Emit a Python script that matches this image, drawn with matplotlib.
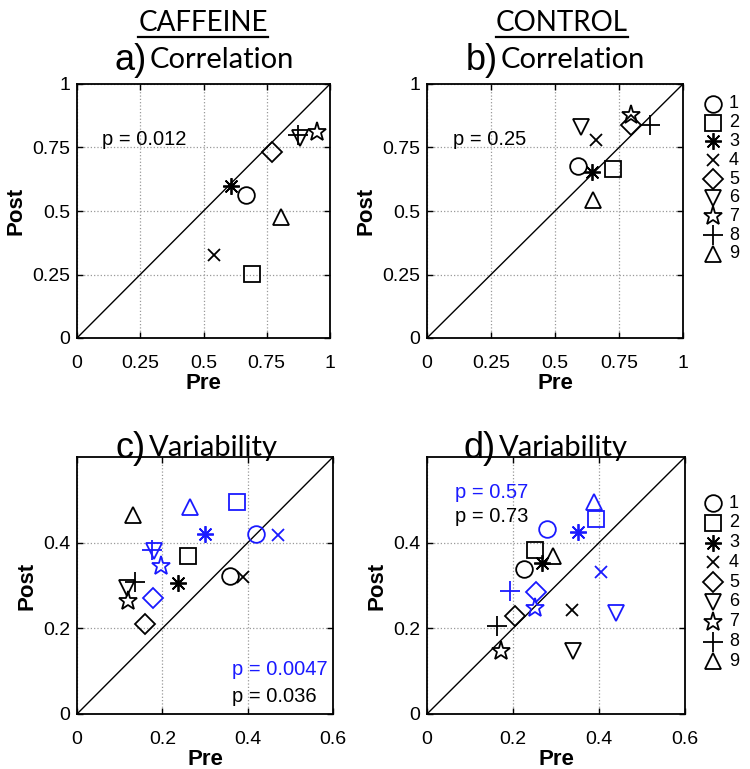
import matplotlib
matplotlib.use("Agg")
import matplotlib.pyplot as plt
from matplotlib.lines import Line2D

plt.rcParams['font.family'] = ['Liberation Sans', 'DejaVu Sans']

subjects = ['1', '2', '3', '4', '5', '6', '7', '8', '9']
markers = ['o', 's', (8, 2, 0), 'x', 'D', 'v', '*', '+', '^']
msizes = [12, 11, 12, 9, 10, 12, 14, 14, 12]

# a) Caffeine correlation
caf_corr_pre = [0.668, 0.690, 0.609, 0.541, 0.769, 0.881, 0.950, 0.872, 0.805]
caf_corr_post = [0.563, 0.252, 0.598, 0.327, 0.734, 0.786, 0.810, 0.800, 0.478]
# b) Control correlation
con_corr_pre = [0.591, 0.728, 0.643, 0.660, 0.796, 0.600, 0.796, 0.871, 0.650]
con_corr_post = [0.677, 0.664, 0.655, 0.780, 0.839, 0.832, 0.878, 0.839, 0.543]
# c) Caffeine variability (black and blue series)
caf_var_pre_k = [0.359, 0.261, 0.237, 0.390, 0.159, 0.117, 0.119, 0.136, 0.131]
caf_var_post_k = [0.322, 0.368, 0.305, 0.319, 0.210, 0.293, 0.264, 0.309, 0.464]
caf_var_pre_b = [0.419, 0.375, 0.300, 0.471, 0.178, 0.181, 0.198, 0.175, 0.266]
caf_var_post_b = [0.421, 0.495, 0.421, 0.419, 0.271, 0.381, 0.345, 0.382, 0.483]
# d) Control variability
con_var_pre_k = [0.225, 0.250, 0.268, 0.338, 0.204, 0.340, 0.173, 0.163, 0.293]
con_var_post_k = [0.338, 0.382, 0.353, 0.243, 0.229, 0.146, 0.146, 0.205, 0.368]
con_var_pre_b = [0.280, 0.392, 0.351, 0.405, 0.254, 0.440, 0.250, 0.194, 0.388]
con_var_post_b = [0.433, 0.456, 0.425, 0.332, 0.285, 0.235, 0.247, 0.288, 0.495]

corr_ticks = [0, 0.25, 0.5, 0.75, 1]
corr_ticklabels = ['0', '0.25', '0.5', '0.75', '1']
var_xticks = [0, 0.2, 0.4, 0.6]
var_xticklabels = ['0', '0.2', '0.4', '0.6']
var_yticks = [0, 0.2, 0.4]
var_yticklabels = ['0', '0.2', '0.4']

BLUE = '#1a1aff'
W, H = 750, 769
fig = plt.figure(figsize=(W / 100, H / 100), dpi=100)


def make_ax(x0, y0, x1, y1):
    return fig.add_axes([x0 / W, 1 - y1 / H, (x1 - x0) / W, (y1 - y0) / H])


axA = make_ax(77, 84, 330, 338)
axB = make_ax(427, 84, 683, 338)
axC = make_ax(77, 457, 333, 714)
axD = make_ax(427, 457, 685, 714)


def style(ax, lim, xt, xtl, yt, ytl):
    ax.set_xlim(0, lim)
    ax.set_ylim(0, lim)
    ax.set_xticks(xt)
    ax.set_xticklabels(xtl)
    ax.set_yticks(yt)
    ax.set_yticklabels(ytl)
    ax.tick_params(direction='in', length=4, width=1, top=True, right=True,
                   labelsize=14, colors='black')
    ax.tick_params(axis='x', pad=12)
    ax.tick_params(axis='y', pad=5)
    for s in ax.spines.values():
        s.set_linewidth(1.3)
    ax.grid(True, linestyle=':', color='#999999', linewidth=0.9)
    ax.set_axisbelow(True)
    ax.plot([0, lim], [0, lim], color='black', lw=1.0, zorder=2)
    ax.set_xlabel('Pre', fontsize=16, fontweight='bold', labelpad=1)
    ax.set_ylabel('Post', fontsize=16, fontweight='bold', labelpad=4)


def scatter(ax, xs, ys, color):
    for x, y, m, ms in zip(xs, ys, markers, msizes):
        ax.plot([x], [y], linestyle='none', marker=m, markersize=ms,
                markerfacecolor='none', markeredgecolor=color,
                markeredgewidth=1.3, color=color, zorder=3, clip_on=False)


style(axA, 1, corr_ticks, corr_ticklabels, corr_ticks, corr_ticklabels)
style(axB, 1, corr_ticks, corr_ticklabels, corr_ticks, corr_ticklabels)
style(axC, 0.6, var_xticks, var_xticklabels, var_yticks, var_yticklabels)
style(axD, 0.6, var_xticks, var_xticklabels, var_yticks, var_yticklabels)

scatter(axA, caf_corr_pre, caf_corr_post, 'black')
scatter(axB, con_corr_pre, con_corr_post, 'black')
scatter(axC, caf_var_pre_k, caf_var_post_k, 'black')
scatter(axC, caf_var_pre_b, caf_var_post_b, BLUE)
scatter(axD, con_var_pre_k, con_var_post_k, 'black')
scatter(axD, con_var_pre_b, con_var_post_b, BLUE)

axA.text(0.10, 0.78, 'p = 0.012', fontsize=14.5, va='center', ha='left')
axB.text(0.10, 0.78, 'p = 0.25', fontsize=14.5, va='center', ha='left')
axC.text(0.364, 0.103, 'p = 0.0047', fontsize=14.5, va='center', ha='left', color=BLUE)
axC.text(0.364, 0.041, 'p = 0.036', fontsize=14.5, va='center', ha='left', color='black')
axD.text(0.064, 0.518, 'p = 0.57', fontsize=14.5, va='center', ha='left', color=BLUE)
axD.text(0.064, 0.460, 'p = 0.73', fontsize=14.5, va='center', ha='left', color='black')


def legend(ax, x0, x1, y0, y1, ytop, step):
    for i, (lab, m, ms) in enumerate(zip(subjects, markers, msizes)):
        ypix = ytop + step * i
        fy = (y1 - ypix) / (y1 - y0)
        fx = (713 - x0) / (x1 - x0)
        tx = (729 - x0) / (x1 - x0)
        ax.plot([fx], [fy], transform=ax.transAxes, linestyle='none', marker=m,
                markersize=ms, markerfacecolor='none', markeredgecolor='black',
                markeredgewidth=1.3, clip_on=False)
        ax.text(tx, fy, lab, transform=ax.transAxes, fontsize=13,
                va='center', ha='left')


legend(axB, 427, 683, 84, 338, 104, 18.75)
legend(axD, 427, 685, 457, 714, 503, 19.8)

# headings
cond_font = ['Lato', 'Open Sans', 'DejaVu Sans']
headers = []
headers.append(fig.text(203 / W, 1 - 23 / H, 'CAFFEINE', fontsize=20,
                        family=cond_font, ha='center', va='center'))
headers.append(fig.text(562 / W, 1 - 23 / H, 'CONTROL', fontsize=20,
                        family=cond_font, ha='center', va='center'))


def title(xc, yc, letter, word):
    fig.text(xc / W, 1 - yc / H, letter, fontsize=26, ha='right', va='center')
    fig.text((xc + 3) / W, 1 - (yc - 1) / H, word, fontsize=21, family=cond_font,
             ha='left', va='center')


title(147, 61, 'a)', 'Correlation')
title(498, 61, 'b)', 'Correlation')
title(146, 449, 'c)', 'Variability')
title(496, 449, 'd)', 'Variability')

fig.canvas.draw()
r = fig.canvas.get_renderer()
for t in headers:
    bb = t.get_window_extent(r)
    yy = bb.y0 - 1
    fig.add_artist(Line2D([bb.x0 / W, bb.x1 / W], [yy / H, yy / H],
                          transform=fig.transFigure, color='black', lw=1.6))

fig.savefig('out.png', dpi=100, facecolor='white')
